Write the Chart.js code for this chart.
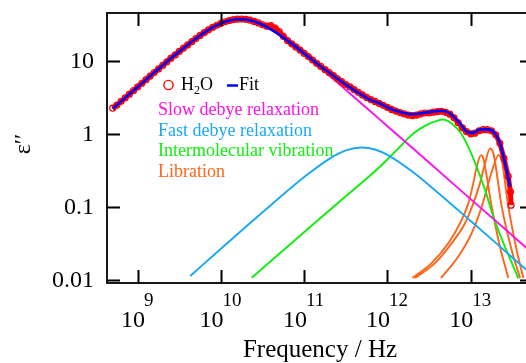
<!DOCTYPE html>
<html>
<head>
<meta charset="utf-8">
<script src="https://cdn.jsdelivr.net/npm/chart.js@4.4.0/dist/chart.umd.min.js"></script>
<style>
html, body { margin: 0; padding: 0; background: #fff; overflow: hidden; width: 526px; height: 363px; }
canvas { display: block; }
</style>
</head>
<body>
<canvas id="myChart" width="545" height="363"></canvas>
<script>
// measured H2O spectrum (Hz, eps'')
const dataFreq = [
  5.01e8, 5.62e8, 6.31e8, 7.08e8, 7.94e8, 8.91e8,
  1.0e9, 1.12e9, 1.26e9, 1.41e9, 1.58e9, 1.78e9, 2.0e9, 2.24e9, 2.51e9, 2.82e9,
  3.16e9, 3.55e9, 3.98e9, 4.47e9, 5.01e9, 5.62e9, 6.31e9, 7.08e9, 7.94e9, 8.91e9,
  1.0e10, 1.12e10, 1.26e10, 1.41e10, 1.58e10, 1.78e10, 2.0e10, 2.24e10, 2.51e10, 2.82e10,
  3.16e10, 3.55e10, 3.98e10, 4.47e10, 5.01e10, 5.62e10, 6.31e10, 7.08e10, 7.94e10, 8.91e10,
  1.0e11, 1.12e11, 1.26e11, 1.41e11, 1.58e11, 1.78e11, 2.0e11, 2.24e11, 2.51e11, 2.82e11,
  3.16e11, 3.55e11, 3.98e11, 4.47e11, 5.01e11, 5.62e11, 6.31e11, 7.08e11, 7.94e11, 8.91e11,
  1.0e12, 1.12e12, 1.26e12, 1.41e12, 1.58e12, 1.78e12, 2.0e12, 2.24e12, 2.51e12, 2.82e12,
  3.16e12, 3.55e12, 3.98e12, 4.47e12, 5.01e12, 5.62e12, 6.31e12, 7.08e12, 7.94e12, 8.91e12,
  1.0e13, 1.12e13, 1.26e13, 1.41e13, 1.58e13, 1.78e13, 2.0e13, 2.24e13, 2.51e13, 2.82e13,
  3.0e13, 3.05e13
];
const dataEps = [
  2.25, 2.48, 2.79, 3.12, 3.50, 3.93,
  4.40, 4.94, 5.53, 6.20, 6.94, 7.77, 8.69, 9.72, 10.9, 12.1,
  13.5, 15.0, 16.6, 18.4, 20.3, 22.4, 24.5, 26.7, 28.8, 30.9,
  32.8, 34.5, 35.9, 36.9, 37.4, 37.6, 37.2, 36.3, 34.9, 33.2,
  31.4, 30.0, 30.6, 28.3, 25.2, 21.8, 19.0, 17.2, 15.6, 14.1,
  12.7, 11.5, 10.3, 9.3, 8.4, 7.6, 6.9, 6.3, 5.7, 5.2,
  4.75, 4.4, 4.05, 3.72, 3.42, 3.16, 2.95, 2.78, 2.62, 2.46,
  2.30, 2.16, 2.05, 1.96, 1.88, 1.80, 1.78, 1.80, 1.88, 1.93,
  1.93, 1.98, 2.02, 2.04, 1.97, 1.86, 1.66, 1.42, 1.21, 1.07,
  1.00, 1.02, 1.10, 1.14, 1.14, 1.10, 0.97, 0.74, 0.46, 0.26,
  0.16, 0.105
];

// fit
const fitFreq = [
  5.01e8, 6.31e8, 7.94e8, 1.0e9, 1.26e9, 1.58e9, 2.0e9, 2.51e9, 3.16e9, 3.98e9,
  5.01e9, 6.31e9, 7.94e9, 1.0e10, 1.26e10, 1.58e10, 2.0e10, 2.51e10, 3.16e10, 3.98e10,
  5.01e10, 6.31e10, 7.94e10, 1.0e11, 1.26e11, 1.58e11, 2.0e11, 2.51e11, 3.16e11, 3.98e11,
  5.01e11, 6.31e11, 8.13e11, 1.0e12, 1.42e12, 2.05e12, 2.57e12, 3.24e12, 4.49e12, 5.64e12,
  7.43e12, 9.10e12, 1.07e13, 1.29e13, 1.63e13, 1.96e13, 2.25e13, 2.58e13, 2.97e13
];
const fitEps = [
  2.21, 2.79, 3.50, 4.40, 5.53, 6.94, 8.69, 10.9, 13.5, 16.6,
  20.3, 24.5, 28.8, 32.8, 35.9, 37.4, 37.0, 34.9, 31.4, 27.1,
  23.0, 19.0, 15.6, 12.7, 10.3, 8.4, 6.9, 5.7, 4.73, 3.98,
  3.37, 2.90, 2.61, 2.30, 2.0, 1.86, 1.92, 2.0, 2.07, 1.90,
  1.39, 1.06, 1.03, 1.15, 1.15, 1.01, 0.738, 0.394, 0.188
];

// slow debye relaxation
const slowFreq = [5.01e8, 1.0e9, 1.78e9, 3.16e9, 5.62e9, 1.0e10, 1.26e10, 1.7e10, 2.24e10, 3.16e10,
  5.62e10, 1.0e11, 1.78e11, 3.16e11, 5.62e11, 1.0e12, 3.16e12, 1.0e13, 3.16e13, 5.6e13];
const slowEps = [2.21, 4.40, 7.77, 13.5, 22.4, 32.8, 35.9, 37.5, 36.1, 31.3,
  20.7, 12.4, 7.1, 4.01, 2.26, 1.27, 0.403, 0.127, 0.0403, 0.0228];

// fast debye relaxation
const fastFreq = [4.27e9, 1.0e10, 3.16e10, 1.0e11, 2.0e11, 3.16e11, 4.9e11, 7.08e11, 1.0e12, 2.0e12,
  3.16e12, 1.0e13, 2.0e13, 3.16e13, 5.6e13];
const fastEps = [0.0112, 0.0265, 0.0838, 0.255, 0.454, 0.592, 0.65, 0.61, 0.513, 0.301,
  0.197, 0.0636, 0.0319, 0.0201, 0.0114];

// intermolecular vibration
const vibFreq = [2.34e10, 8.9e10, 2.69e11, 8.1e11, 1.29e12, 2.05e12, 3.24e12, 4.0e12, 4.56e12, 5.2e12,
  5.92e12, 7.45e12, 9.35e12, 1.18e13, 1.49e13, 1.87e13, 2.47e13, 3.25e13, 3.73e13];
const vibEps = [0.0106, 0.040, 0.119, 0.353, 0.598, 1.01, 1.39, 1.52, 1.57, 1.52,
  1.39, 1.06, 0.664, 0.353, 0.169, 0.073, 0.0316, 0.0151, 0.0104];

// libration bands
const libAFreq = [2.0e12, 3.39e12, 5.38e12, 7.43e12, 9.35e12, 1.074e13, 1.18e13, 1.33e13, 1.416e13, 1.786e13, 2.25e13, 2.83e13];
const libAEps = [0.0105, 0.0168, 0.0315, 0.059, 0.111, 0.21, 0.353, 0.51, 0.46, 0.1, 0.028, 0.0105];
const libBFreq = [2.14e12, 3.72e12, 5.92e12, 8.53e12, 1.074e13, 1.29e13, 1.486e13, 1.706e13, 1.871e13, 2.355e13, 3.10e13, 3.91e13];
const libBEps = [0.0105, 0.0168, 0.0316, 0.0593, 0.111, 0.209, 0.394, 0.63, 0.54, 0.1, 0.0255, 0.0105];
const libCFreq = [4.40e12, 7.10e12, 1.028e13, 1.355e13, 1.626e13, 1.871e13, 2.148e13, 2.355e13, 2.83e13, 3.56e13, 4.29e13];
const libCEps = [0.0105, 0.0207, 0.0433, 0.1, 0.209, 0.353, 0.51, 0.437, 0.1, 0.0255, 0.0105];

// axes
const xTickExp = [9, 10, 11, 12, 13];
const yTicks = [0.01, 0.1, 1, 10];
const yTickLabels = ["0.01", "0.1", "1", "10"];

const SERIF = "'Liberation Serif', 'Times New Roman', serif";
const cMagenta = "#ff10e8", cBlue = "#18a8f8", cGreen = "#10ee10", cOrange = "#ff6418";

function pts(fs, es) { return fs.map((f, i) => ({ x: f, y: es[i] })); }
function curve(fs, es, color) {
    return { data: pts(fs, es), borderColor: color, borderWidth: 1.9, pointRadius: 0,
             showLine: true, cubicInterpolationMode: 'monotone' };
}

const framePlugin = {
    id: 'frame',
    afterDraw(chart) {
        const { ctx, chartArea: a, scales: { x, y } } = chart;
        const tick = 13;
        ctx.save();
        ctx.strokeStyle = '#000';
        ctx.lineWidth = 1.8;
        ctx.strokeRect(a.left, a.top, a.right - a.left, a.bottom - a.top);
        ctx.lineWidth = 2;
        ctx.beginPath();
        xTickExp.forEach(e => {
            const px = Math.round(x.getPixelForValue(Math.pow(10, e))) + 0.5;
            ctx.moveTo(px, a.bottom); ctx.lineTo(px, a.bottom - tick);
            ctx.moveTo(px, a.top); ctx.lineTo(px, a.top + tick);
        });
        yTicks.forEach(v => {
            const py = Math.round(y.getPixelForValue(v)) + 0.5;
            ctx.moveTo(a.left, py); ctx.lineTo(a.left + tick, py);
            ctx.moveTo(a.right, py); ctx.lineTo(a.right - tick, py);
        });
        ctx.stroke();

        // tick labels
        ctx.fillStyle = '#000';
        ctx.font = '24px ' + SERIF;
        ctx.textAlign = 'right';
        ctx.textBaseline = 'middle';
        yTicks.forEach((v, i) => ctx.fillText(yTickLabels[i], 94, y.getPixelForValue(v) + 1));
        ctx.textAlign = 'left';
        ctx.textBaseline = 'alphabetic';
        xTickExp.forEach(e => {
            const px = x.getPixelForValue(Math.pow(10, e));
            ctx.font = '24px ' + SERIF;
            const wb = ctx.measureText('10').width;
            ctx.font = '19px ' + SERIF;
            const ws = ctx.measureText(String(e)).width;
            const x0 = px - (wb + ws) / 2;
            ctx.font = '24px ' + SERIF;
            ctx.fillText('10', x0, 327);
            ctx.font = '19px ' + SERIF;
            ctx.fillText(String(e), x0 + wb - 1, 306);
        });

        // axis titles
        ctx.font = '25px ' + SERIF;
        ctx.textAlign = 'center';
        ctx.fillText('Frequency / Hz', (a.left + a.right) / 2, 357);
        ctx.save();
        ctx.translate(30, 144);
        ctx.rotate(-Math.PI / 2);
        ctx.font = '24px ' + SERIF;
        ctx.fillText('\u03b5\u2032\u2032', 0, 0);
        ctx.restore();

        // legend
        ctx.textAlign = 'left';
        ctx.strokeStyle = '#ff0000';
        ctx.lineWidth = 1.4;
        ctx.beginPath();
        ctx.arc(168.5, 85, 4.6, 0, Math.PI * 2);
        ctx.stroke();
        ctx.font = '18px ' + SERIF;
        ctx.fillStyle = '#000';
        ctx.fillText('H', 181, 90);
        const wH = ctx.measureText('H').width;
        ctx.font = '12px ' + SERIF;
        ctx.fillText('2', 181 + wH, 94);
        const w2 = ctx.measureText('2').width;
        ctx.font = '18px ' + SERIF;
        ctx.fillText('O', 181 + wH + w2, 90);
        ctx.strokeStyle = '#0000ff';
        ctx.lineWidth = 2.5;
        ctx.beginPath();
        ctx.moveTo(227, 85.5); ctx.lineTo(238, 85.5);
        ctx.stroke();
        ctx.fillText('Fit', 239, 90);
        const labels = [['Slow debye relaxation', cMagenta], ['Fast debye relaxation', cBlue],
                        ['Intermolecular vibration', cGreen], ['Libration', cOrange]];
        labels.forEach((l, i) => {
            ctx.fillStyle = l[1];
            ctx.fillText(l[0], 158, 115 + i * 20.7);
        });
        ctx.restore();
    }
};

var ctx = document.getElementById('myChart').getContext('2d');
var myChart = new Chart(ctx, {
    type: 'scatter',
    data: {
        datasets: [
            { data: pts(fitFreq, fitEps), borderColor: '#0000ff', borderWidth: 2.6, pointRadius: 0,
              showLine: true, cubicInterpolationMode: 'monotone' },
            { data: pts(dataFreq, dataEps), borderColor: '#ff0000', borderWidth: 5, showLine: true,
              pointRadius: 3, pointBorderWidth: 1.2, pointBorderColor: '#ff0000',
              pointBackgroundColor: 'rgba(255,255,255,0)' },
            curve(slowFreq, slowEps, cMagenta),
            curve(fastFreq, fastEps, cBlue),
            curve(vibFreq, vibEps, cGreen),
            curve(libAFreq, libAEps, cOrange),
            curve(libBFreq, libBEps, cOrange),
            curve(libCFreq, libCEps, cOrange)
        ]
    },
    options: {
        responsive: false,
        animation: false,
        devicePixelRatio: 1,
        layout: { padding: { left: 107, top: 13, right: 12, bottom: 80 } },
        plugins: { legend: { display: false }, tooltip: { enabled: false } },
        scales: {
            x: { type: 'logarithmic', display: false, bounds: 'data', min: 4.276e8, max: 5.598e13 },
            y: { type: 'logarithmic', display: false, bounds: 'data', min: 0.008974, max: 45.5 }
        }
    },
    plugins: [framePlugin]
});
</script>
</body>
</html>
